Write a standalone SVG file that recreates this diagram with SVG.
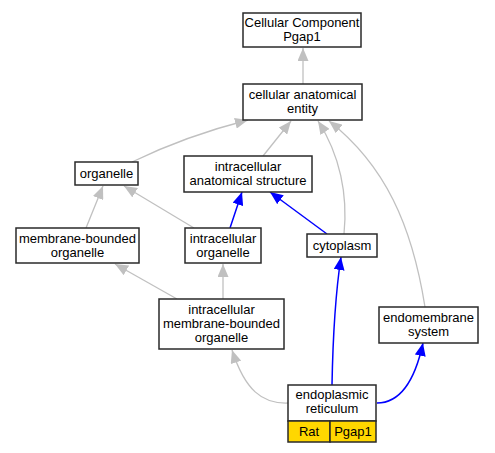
<svg xmlns="http://www.w3.org/2000/svg" width="495" height="453" viewBox="0 0 495 453">
<style>
.box{fill:#fff;stroke:#2a2a2a;stroke-width:1.5}
.gold{fill:#ffd700;stroke:#2a2a2a;stroke-width:1.5}
text{font-family:"Liberation Sans",Arial,sans-serif;font-size:13px;fill:#000;text-anchor:middle}
.g{fill:none;stroke:#c0c0c0;stroke-width:1.3}
.b{fill:none;stroke:#0000ff;stroke-width:1.5}
</style>
<defs>
<marker id="ag" markerUnits="userSpaceOnUse" markerWidth="14" markerHeight="11" refX="13" refY="5.5" orient="auto"><path d="M0,0 L13,5.5 L0,11 z" fill="#c0c0c0"/></marker>
<marker id="ab" markerUnits="userSpaceOnUse" markerWidth="14" markerHeight="11" refX="13" refY="5.5" orient="auto"><path d="M0,0 L13,5.5 L0,11 z" fill="#0000ff"/></marker>
</defs>
<rect width="495" height="453" fill="#fff"/>
<g id="edges">
<path class="g" marker-end="url(#ag)" d="M303,84 L303,48"/>
<path class="g" marker-end="url(#ag)" d="M132,162 C165,146 205,131 248,120"/>
<path class="g" marker-end="url(#ag)" d="M263,156 L291,121"/>
<path class="g" marker-end="url(#ag)" d="M344,234 C348,195 340,155 318,121"/>
<path class="g" marker-end="url(#ag)" d="M425,307 C412,225 385,165 329,121"/>
<path class="g" marker-end="url(#ag)" d="M86,228 L103,186"/>
<path class="g" marker-end="url(#ag)" d="M194,228 L124,186"/>
<path class="b" marker-end="url(#ab)" d="M230,228 L242,192"/>
<path class="b" marker-end="url(#ab)" d="M327,234 L270,192"/>
<path class="g" marker-end="url(#ag)" d="M177,299 L115,264"/>
<path class="g" marker-end="url(#ag)" d="M223,299 L223,264"/>
<path class="g" marker-end="url(#ag)" d="M288,403 C262,404 245,390 232,350"/>
<path class="b" marker-end="url(#ab)" d="M332,385 C333,330 336,290 341,257"/>
<path class="b" marker-end="url(#ab)" d="M377,403 C400,403 415,380 423,343"/>
</g>
<g id="n_cc"><rect class="box" x="243" y="13" width="118" height="34"/><text x="302" y="26.5">Cellular Component</text><text x="302" y="40.5">Pgap1</text></g>
<g id="n_cae"><rect class="box" x="243" y="84" width="119" height="36"/><text x="302.5" y="99">cellular anatomical</text><text x="302.5" y="113">entity</text></g>
<g id="n_org"><rect class="box" x="75" y="162" width="63" height="23"/><text x="106.5" y="178">organelle</text></g>
<g id="n_ias"><rect class="box" x="184" y="156" width="128" height="36"/><text x="248" y="171">intracellular</text><text x="248" y="185">anatomical structure</text></g>
<g id="n_mbo"><rect class="box" x="16" y="228" width="123" height="35"/><text x="77.5" y="242.5">membrane-bounded</text><text x="77.5" y="256.5">organelle</text></g>
<g id="n_io"><rect class="box" x="185" y="228" width="76" height="35"/><text x="223" y="242.5">intracellular</text><text x="223" y="256.5">organelle</text></g>
<g id="n_cyt"><rect class="box" x="307" y="234" width="70" height="23"/><text x="342" y="250">cytoplasm</text></g>
<g id="n_imbo"><rect class="box" x="159" y="299" width="125" height="50"/><text x="221.5" y="313.5">intracellular</text><text x="221.5" y="327.5">membrane-bounded</text><text x="221.5" y="341.5">organelle</text></g>
<g id="n_ems"><rect class="box" x="379" y="307" width="99" height="36"/><text x="428.5" y="322">endomembrane</text><text x="428.5" y="336">system</text></g>
<g id="n_er"><rect class="box" x="288" y="385" width="88" height="36"/><rect class="gold" x="288" y="421" width="42" height="21"/><rect class="gold" x="330" y="421" width="46" height="21"/><text x="332" y="399">endoplasmic</text><text x="332" y="413">reticulum</text><text x="309" y="436">Rat</text><text x="353" y="436">Pgap1</text></g>
</svg>
